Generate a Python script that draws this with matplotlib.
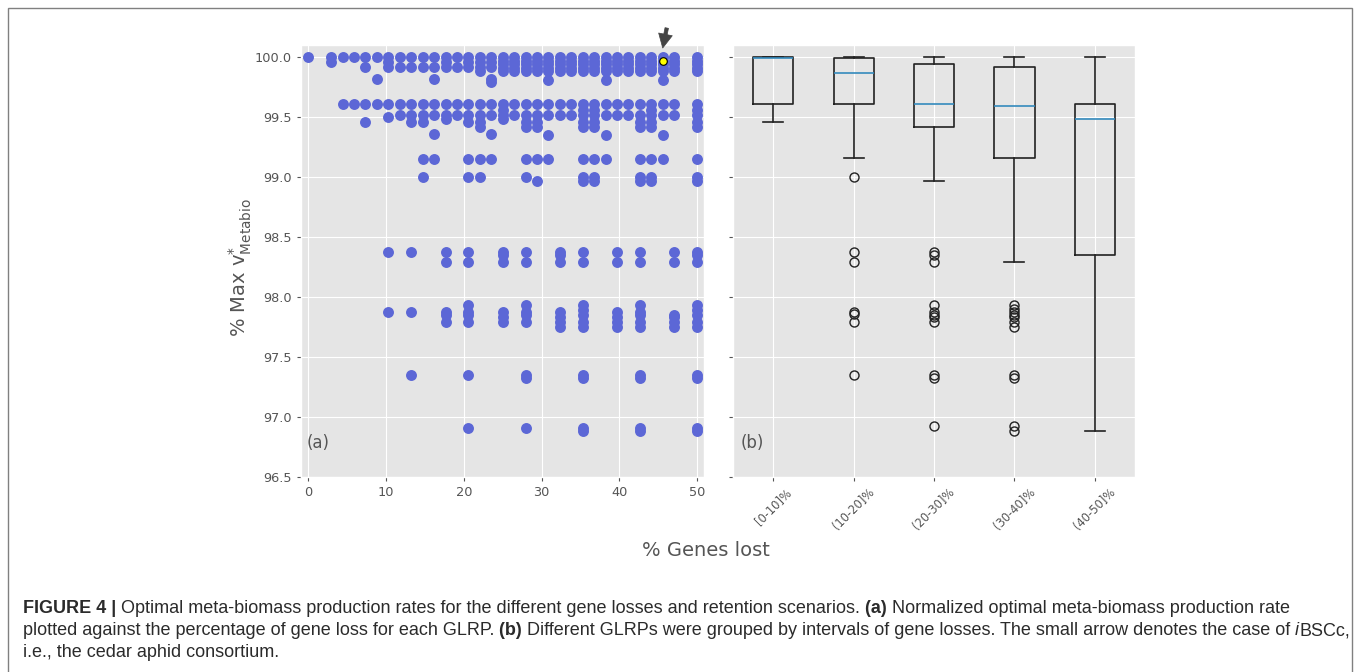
import matplotlib
matplotlib.use('Agg')
import matplotlib.pyplot as plt
from matplotlib.patches import Rectangle

plt.style.use('ggplot')

# % of genes lost for each column of GLRPs
gene_loss = [0.0, 2.94, 4.41, 5.88, 7.35, 8.82, 10.29, 11.76, 13.24, 14.71,
             16.18, 17.65, 19.12, 20.59, 22.06, 23.53, 25.0, 26.47, 27.94,
             29.41, 30.88, 32.35, 33.82, 35.29, 36.76, 38.24, 39.71, 41.18,
             42.65, 44.12, 45.59, 47.06, 50.0]

# % max v*_Metabio for each column above (one list per column)
max_v = [
    [100.0],
    [100.0, 99.96],
    [100.0, 99.61],
    [100.0, 99.61],
    [100.0, 99.92, 99.61, 99.46],
    [100.0, 99.82, 99.61],
    [100.0, 99.96, 99.92, 99.61, 99.50, 98.37, 97.87],
    [100.0, 99.92, 99.61, 99.52],
    [100.0, 99.92, 99.61, 99.52, 99.46, 98.37, 97.87, 97.35],
    [100.0, 99.92, 99.61, 99.52, 99.46, 99.15, 99.0],
    [100.0, 99.92, 99.82, 99.61, 99.52, 99.36, 99.15],
    [100.0, 99.96, 99.92, 99.61, 99.52, 99.48, 98.37, 98.29, 97.87, 97.85, 97.79],
    [100.0, 99.92, 99.61, 99.52],
    [100.0, 99.96, 99.92, 99.61, 99.52, 99.46, 99.15, 99.0, 98.37, 98.29,
     97.93, 97.87, 97.85, 97.79, 97.35, 96.91],
    [100.0, 99.96, 99.92, 99.88, 99.61, 99.52, 99.46, 99.42, 99.15, 99.0],
    [100.0, 99.96, 99.92, 99.82, 99.79, 99.61, 99.52, 99.36, 99.15],
    [100.0, 99.97, 99.94, 99.91, 99.88, 99.61, 99.56, 99.52, 99.48, 98.37,
     98.35, 98.29, 97.87, 97.83, 97.79],
    [100.0, 99.97, 99.94, 99.91, 99.88, 99.61, 99.52],
    [100.0, 99.97, 99.94, 99.91, 99.88, 99.61, 99.52, 99.46, 99.42, 99.15,
     99.0, 98.37, 98.29, 97.93, 97.87, 97.85, 97.79, 97.35, 97.32, 96.91],
    [100.0, 99.97, 99.94, 99.91, 99.88, 99.61, 99.52, 99.46, 99.42, 99.15, 98.97],
    [100.0, 99.97, 99.94, 99.91, 99.88, 99.81, 99.61, 99.52, 99.35, 99.15],
    [100.0, 99.97, 99.94, 99.91, 99.88, 99.61, 99.52, 98.37, 98.35, 98.29,
     97.87, 97.83, 97.79, 97.75],
    [100.0, 99.97, 99.94, 99.91, 99.88, 99.61, 99.52],
    [100.0, 99.97, 99.94, 99.91, 99.88, 99.61, 99.56, 99.52, 99.46, 99.42,
     99.15, 99.0, 98.97, 98.37, 98.29, 97.93, 97.89, 97.85, 97.79, 97.75,
     97.35, 97.32, 96.91, 96.88],
    [100.0, 99.97, 99.94, 99.91, 99.88, 99.61, 99.56, 99.52, 99.46, 99.42,
     99.15, 99.0, 98.97],
    [100.0, 99.97, 99.94, 99.91, 99.88, 99.81, 99.61, 99.52, 99.35, 99.15],
    [100.0, 99.97, 99.94, 99.91, 99.88, 99.61, 99.52, 98.37, 98.29, 97.87,
     97.83, 97.79, 97.75],
    [100.0, 99.97, 99.94, 99.91, 99.88, 99.61, 99.52],
    [100.0, 99.97, 99.94, 99.91, 99.88, 99.61, 99.52, 99.46, 99.42, 99.15,
     99.0, 98.97, 98.37, 98.29, 97.93, 97.87, 97.85, 97.79, 97.75, 97.35,
     97.32, 96.91, 96.88],
    [100.0, 99.97, 99.94, 99.91, 99.88, 99.61, 99.56, 99.52, 99.46, 99.42,
     99.15, 99.0, 98.97],
    [100.0, 99.97, 99.94, 99.91, 99.88, 99.81, 99.61, 99.52, 99.35, 99.15],
    [100.0, 99.97, 99.94, 99.91, 99.88, 99.61, 99.52, 98.37, 98.29, 97.85,
     97.83, 97.79, 97.75],
    [100.0, 99.97, 99.94, 99.91, 99.88, 99.61, 99.56, 99.52, 99.46, 99.42,
     99.15, 99.0, 98.97, 98.37, 98.35, 98.29, 97.93, 97.89, 97.85, 97.79,
     97.75, 97.35, 97.32, 96.91, 96.88],
]

# iBSCc (cedar aphid consortium)
cedar_x = 45.59
cedar_y = 99.965

# box plot summary per gene-loss interval
box_labels = ['[0-10]%', '(10-20]%', '(20-30]%', '(30-40]%', '(40-50]%']
box_whislo = [99.46, 99.155, 98.97, 98.29, 96.88]
box_q1 = [99.61, 99.61, 99.42, 99.155, 98.35]
box_med = [99.995, 99.87, 99.61, 99.59, 99.48]
box_q3 = [100.0, 99.99, 99.945, 99.92, 99.61]
box_whishi = [100.0, 100.0, 100.0, 100.0, 100.0]
box_fliers = [
    [],
    [99.0, 98.37, 98.29, 97.87, 97.86, 97.79, 97.35],
    [98.37, 98.35, 98.29, 97.93, 97.87, 97.85, 97.83, 97.79, 97.35, 97.32, 96.92],
    [97.93, 97.9, 97.87, 97.85, 97.83, 97.79, 97.75, 97.35, 97.32, 96.92, 96.88],
    [],
]

y_ticks = [96.5, 97.0, 97.5, 98.0, 98.5, 99.0, 99.5, 100.0]
x_ticks = [0, 10, 20, 30, 40, 50]

W, H = 1360, 672
fig = plt.figure(figsize=(W / 100, H / 100), dpi=100)
fig.patch.set_facecolor('white')

ax1 = fig.add_axes([301 / W, 1 - 476.7 / H, 403 / W, 431.7 / H])
ax2 = fig.add_axes([733 / W, 1 - 476.7 / H, 402 / W, 431.7 / H], sharey=ax1)

# (a) scatter
xs = [x for x, col in zip(gene_loss, max_v) for _ in col]
ys = [y for col in max_v for y in col]
ax1.scatter(xs, ys, s=62, color='#5c67d6', linewidths=0, zorder=2)
ax1.scatter([cedar_x], [cedar_y], s=30, color='yellow', edgecolors='black',
            linewidths=0.8, zorder=3)
ax1.annotate('', xy=(cedar_x, 100.075), xytext=(2.9, 14.4),
             textcoords='offset points', annotation_clip=False,
             arrowprops=dict(facecolor='#444444', edgecolor='#444444',
                             width=2.5, headwidth=10, headlength=10, shrink=0))
ax1.set_xlim(-0.94, 50.9)
ax1.set_ylim(96.5, 100.1)
ax1.set_yticks(y_ticks)
ax1.set_xticks(x_ticks)
ax1.text(0.015, 0.078, '(a)', transform=ax1.transAxes, fontsize=12,
         color='#555555', va='center', ha='left')

# (b) box plot
stats = []
for i in range(len(box_labels)):
    stats.append(dict(label=box_labels[i], med=box_med[i], q1=box_q1[i],
                      q3=box_q3[i], whislo=box_whislo[i],
                      whishi=box_whishi[i], fliers=box_fliers[i]))
line_kw = dict(color='#222222', linewidth=1.2)
ax2.bxp(stats, positions=[1, 2, 3, 4, 5], widths=0.5,
        boxprops=line_kw, whiskerprops=line_kw, capprops=line_kw,
        medianprops=dict(color='#348ABD', linewidth=1.2),
        flierprops=dict(marker='o', markerfacecolor='none',
                        markeredgecolor='#222222', markersize=6.5))
ax2.set_xlim(0.5, 5.5)
ax2.tick_params(labelleft=False)
ax2.tick_params(axis='x', labelsize=8.3, labelrotation=45)
ax2.text(0.019, 0.078, '(b)', transform=ax2.transAxes, fontsize=12,
         color='#555555', va='center', ha='left')

ax1.tick_params(labelsize=9.3, length=3, colors='#555555')
ax2.tick_params(length=3, colors='#555555')

fig.text(240 / W, 1 - 268 / H, r'% Max v$^{*}_{\mathregular{Metabio}}$',
         rotation=90, ha='center', va='center', fontsize=14, color='#555555')
fig.text(706 / W, 1 - 550 / H, '% Genes lost', ha='center', va='center',
         fontsize=14, color='#555555')

# frame around the figure
fig.patches.append(Rectangle((7.5 / W, -0.05), (1352 - 7.5) / W, 1.05 - 8 / H,
                             transform=fig.transFigure, fill=False,
                             edgecolor='#808080', linewidth=1))

# caption
cap_font = ['Liberation Sans', 'DejaVu Sans']
renderer = fig.canvas.get_renderer()


def caption_line(segments, y_px):
    x = 22.7
    for txt, weight, style in segments:
        t = fig.text(x / W, 1 - y_px / H, txt, fontsize=13, family=cap_font,
                     fontweight=weight, fontstyle=style, color='#2b2b2b',
                     va='baseline', ha='left')
        x += t.get_window_extent(renderer).width


caption_line([('FIGURE 4 |', 'bold', 'normal'),
              (' Optimal meta-biomass production rates for the different gene '
               'losses and retention scenarios.', 'normal', 'normal'),
              (' (a)', 'bold', 'normal'),
              (' Normalized optimal meta-biomass production rate', 'normal', 'normal')],
             613.3)
caption_line([('plotted against the percentage of gene loss for each GLRP.', 'normal', 'normal'),
              (' (b)', 'bold', 'normal'),
              (' Different GLRPs were grouped by intervals of gene losses. The '
               'small arrow denotes the case of ', 'normal', 'normal'),
              ('i', 'normal', 'italic'),
              ('BSCc,', 'normal', 'normal')],
             635)
caption_line([('i.e., the cedar aphid consortium.', 'normal', 'normal')], 657)

fig.savefig('out.png', dpi=100)
